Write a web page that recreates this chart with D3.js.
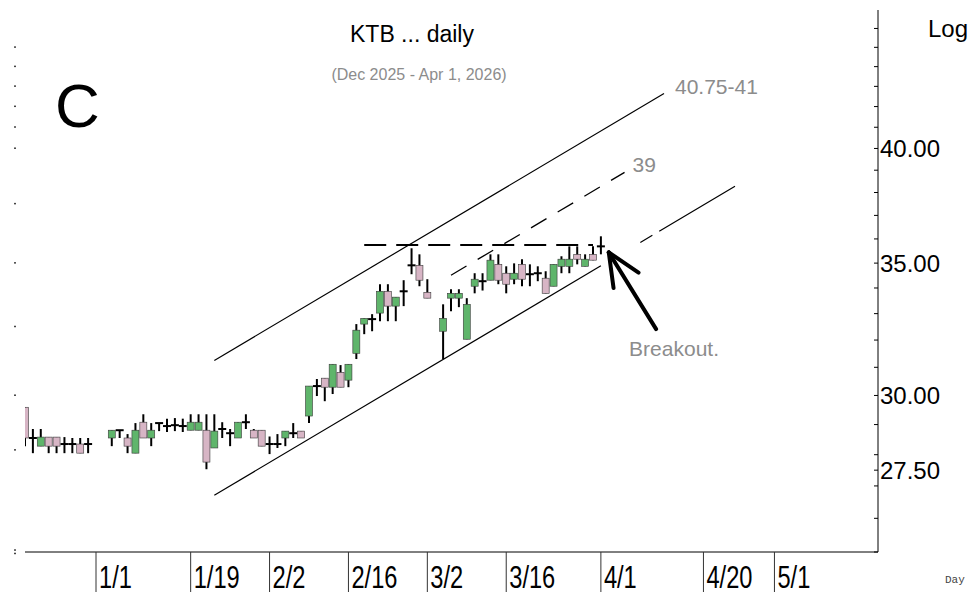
<!DOCTYPE html>
<meta charset="utf-8">
<style>
body {
    margin: 0;
    background: #fff;
}

svg text {
    font-family: "Liberation Sans", Arial, sans-serif;
}

.wick {
    stroke: #000;
    stroke-width: 2;
}

.up {
    fill: #5fb56b;
    stroke: #3a3a3a;
    stroke-width: 0.6;
}

.down {
    fill: #d7b5c5;
    stroke: #3a3a3a;
    stroke-width: 0.6;
}

.note {
    fill: #8c8c8c;
}
</style>
<body>
<script src="https://d3js.org/d3.v7.min.js"></script>
<script>
    var width = 969,
        height = 596;

    // daily bars
    var dates = ["2025-12-19", "2025-12-22", "2025-12-23", "2025-12-24", "2025-12-25", "2025-12-26", "2025-12-29", "2025-12-30", "2025-12-31",
        "2026-01-05", "2026-01-06", "2026-01-07", "2026-01-08", "2026-01-09", "2026-01-12", "2026-01-13", "2026-01-14", "2026-01-15", "2026-01-16",
        "2026-01-19", "2026-01-20", "2026-01-21", "2026-01-22", "2026-01-23", "2026-01-26", "2026-01-27", "2026-01-28", "2026-01-29", "2026-01-30",
        "2026-02-02", "2026-02-03", "2026-02-04", "2026-02-05", "2026-02-06", "2026-02-09", "2026-02-10", "2026-02-11", "2026-02-12", "2026-02-13",
        "2026-02-16", "2026-02-17", "2026-02-18", "2026-02-19", "2026-02-20", "2026-02-23", "2026-02-24", "2026-02-25", "2026-02-26", "2026-02-27",
        "2026-03-02", "2026-03-04", "2026-03-05", "2026-03-06", "2026-03-09", "2026-03-10", "2026-03-11", "2026-03-12", "2026-03-13",
        "2026-03-16", "2026-03-17", "2026-03-18", "2026-03-19", "2026-03-20", "2026-03-23", "2026-03-24", "2026-03-25", "2026-03-26", "2026-03-27",
        "2026-03-30", "2026-03-31", "2026-04-01"];
    var opens = [29.59, 28.55, 28.28, 28.58, 28.58, 28.35, 28.35, 28.35, 28.35,
        28.55, 28.81, 28.55, 28.05, 29.08, 28.55, 29.05, 28.95, 28.98, 28.95,
        28.81, 28.81, 28.81, 28.22, 28.85, 28.71, 28.55, 29.08, 28.81, 28.81,
        28.35, 28.35, 28.55, 28.71, 28.78, 29.29, 30.33, 30.61, 30.29, 30.82,
        30.54, 31.51, 32.60, 32.79, 33.02, 33.87, 33.29, 33.87, 34.91, 34.91,
        33.83, 32.33, 33.60, 33.60, 32.03, 34.07, 34.27, 34.31, 34.95,
        34.59, 34.35, 34.95, 34.55, 34.59, 34.39, 34.07, 34.87, 34.87, 35.36,
        34.87, 35.36, 35.69];
    var highs = [29.59, 28.85, 28.85, 28.58, 28.58, 28.58, 28.55, 28.55, 28.55,
        28.81, 28.81, 28.68, 29.05, 29.35, 29.05, 29.05, 29.20, 29.22, 29.20,
        29.35, 29.35, 29.35, 29.35, 29.08, 28.85, 29.08, 29.35, 28.85, 28.81,
        28.60, 28.68, 28.78, 29.05, 28.78, 30.33, 30.58, 30.61, 31.11, 31.08,
        31.11, 32.60, 32.82, 32.98, 34.15, 34.15, 33.64, 34.31, 35.61, 35.36,
        34.35, 33.36, 33.95, 33.95, 33.60, 34.59, 34.59, 35.36, 35.36,
        34.87, 34.99, 35.16, 34.95, 34.87, 34.67, 34.95, 35.28, 35.69, 35.69,
        35.36, 35.69, 36.11];
    var lows = [28.28, 28.05, 28.28, 28.05, 28.05, 28.05, 28.05, 28.05, 28.05,
        28.28, 28.55, 28.05, 28.05, 28.55, 28.28, 28.78, 28.75, 28.78, 28.75,
        28.81, 28.81, 27.53, 28.22, 28.55, 28.28, 28.55, 28.85, 28.55, 28.28,
        28.02, 28.22, 28.28, 28.55, 28.55, 29.05, 29.98, 29.80, 30.05, 30.29,
        30.29, 31.30, 32.22, 32.33, 32.71, 32.71, 32.71, 33.29, 34.55, 34.07,
        33.60, 31.30, 33.09, 33.25, 32.03, 33.79, 33.90, 34.31, 34.15,
        33.79, 34.15, 34.07, 34.07, 34.27, 33.79, 34.07, 34.59, 34.59, 34.95,
        34.87, 35.12, 35.36];
    var closes = [28.55, 28.55, 28.58, 28.28, 28.28, 28.35, 28.35, 28.05, 28.35,
        28.81, 28.81, 28.28, 28.81, 28.55, 28.81, 29.05, 28.95, 28.98, 28.95,
        29.08, 29.08, 27.76, 28.78, 28.85, 28.71, 29.08, 29.08, 28.55, 28.28,
        28.35, 28.35, 28.78, 28.71, 28.55, 30.33, 30.33, 30.29, 31.11, 30.29,
        31.11, 32.37, 32.82, 32.79, 33.87, 33.29, 33.64, 33.87, 34.91, 34.31,
        33.60, 32.82, 33.79, 33.79, 33.36, 34.35, 34.27, 35.12, 34.31,
        34.15, 34.59, 34.35, 34.55, 34.59, 33.79, 34.95, 35.16, 35.16, 35.16,
        35.16, 35.12, 35.69];

    // axis labels
    var xTickDates = ["2026-01-01", "2026-01-19", "2026-02-02", "2026-02-16", "2026-03-02", "2026-03-16", "2026-04-01", "2026-04-20", "2026-05-01"];
    var xTickLabels = ["1/1", "1/19", "2/2", "2/16", "3/2", "3/16", "4/1", "4/20", "5/1"];
    var yTickLabels = [40, 35, 30, 27.5];
    var leftMarks = [45, 44, 43, 42, 41, 40, 37.5, 35, 32.5, 30, 28.15, 25.05, 24.95];

    // drawn lines: [date, price]
    var upperChannel = [["2026-01-22", 31.25], ["2026-04-13", 42.64]];
    var lowerChannel = [["2026-01-22", 26.71], ["2026-04-01", 34.89]];
    var lowerChannelExt = [["2026-04-08", 35.85], ["2026-04-24", 38.28]];
    var midChannel = [["2026-03-05", 34.51], ["2026-04-06", 38.90]];
    var resistance = [["2026-02-18", 35.75], ["2026-03-31", 35.75]];
    var arrow = [["2026-04-10", 32.41], ["2026-04-02", 35.44]];

    var svg = d3.select("body").append("svg")
        .attr("width", width)
        .attr("height", height);

    var fmt = d3.timeFormat("%Y-%m-%d");
    var days = d3.timeDay.range(new Date(2025, 11, 19), new Date(2026, 4, 21))
        .filter(function(d) { return d.getDay() !== 0 && d.getDay() !== 6; })
        .map(fmt);

    var x = d3.scalePoint().domain(days).range([25, 877]);
    var y = d3.scaleLog().domain([25, 47]).range([552, 10]);

    svg.append("clipPath").attr("id", "plot")
        .append("rect")
        .attr("x", 25).attr("y", 0)
        .attr("width", 853).attr("height", 552);

    var candles = dates.map(function(d, i) {
        return {date: d, o: opens[i], h: highs[i], l: lows[i], c: closes[i]};
    });

    var plot = svg.append("g").attr("clip-path", "url(#plot)");

    plot.selectAll("line.wick")
        .data(candles)
        .join("line")
        .attr("class", "wick")
        .attr("x1", function(d) { return x(d.date); })
        .attr("x2", function(d) { return x(d.date); })
        .attr("y1", function(d) { return y(d.h); })
        .attr("y2", function(d) { return y(d.l); });

    plot.selectAll("line.flat")
        .data(candles.filter(function(d) { return d.o === d.c; }))
        .join("line")
        .attr("class", "wick flat")
        .attr("x1", function(d) { return x(d.date) - 4; })
        .attr("x2", function(d) { return x(d.date) + 4; })
        .attr("y1", function(d) { return y(d.o); })
        .attr("y2", function(d) { return y(d.o); });

    plot.selectAll("rect.body")
        .data(candles.filter(function(d) { return d.o !== d.c; }))
        .join("rect")
        .attr("class", function(d) { return d.c > d.o ? "body up" : "body down"; })
        .attr("x", function(d) { return x(d.date) - 3.5; })
        .attr("width", 7)
        .attr("y", function(d) { return y(Math.max(d.o, d.c)); })
        .attr("height", function(d) { return Math.max(1, Math.abs(y(d.o) - y(d.c))); });

    var line = d3.line()
        .x(function(d) { return x(d[0]); })
        .y(function(d) { return y(d[1]); });

    svg.append("path").attr("d", line(upperChannel))
        .attr("stroke", "#000").attr("stroke-width", 1.2).attr("fill", "none");
    svg.append("path").attr("d", line(lowerChannel))
        .attr("stroke", "#000").attr("stroke-width", 1.2).attr("fill", "none");
    svg.append("path").attr("d", line(lowerChannelExt))
        .attr("stroke", "#000").attr("stroke-width", 1.2).attr("fill", "none")
        .attr("stroke-dasharray", "14,8,120");
    svg.append("path").attr("d", line(midChannel))
        .attr("stroke", "#000").attr("stroke-width", 1.3).attr("fill", "none")
        .attr("stroke-dasharray", "18,13");
    svg.append("path").attr("d", line(resistance))
        .attr("stroke", "#000").attr("stroke-width", 2).attr("fill", "none")
        .attr("stroke-dasharray", "22,10");

    // arrow toward the breakout bar
    var tail = [x(arrow[0][0]), y(arrow[0][1])],
        tip = [x(arrow[1][0]), y(arrow[1][1])];
    var ang = Math.atan2(tail[1] - tip[1], tail[0] - tip[0]);
    svg.append("line")
        .attr("x1", tail[0]).attr("y1", tail[1])
        .attr("x2", tip[0]).attr("y2", tip[1])
        .attr("stroke", "#000").attr("stroke-width", 4).attr("stroke-linecap", "round");
    [-0.42, 0.42].forEach(function(a) {
        svg.append("line")
            .attr("x1", tip[0]).attr("y1", tip[1])
            .attr("x2", tip[0] + 36 * Math.cos(ang + a))
            .attr("y2", tip[1] + 36 * Math.sin(ang + a))
            .attr("stroke", "#000").attr("stroke-width", 4).attr("stroke-linecap", "round");
    });

    // notes
    svg.append("text").attr("class", "note")
        .attr("x", x(upperChannel[1][0]) + 11).attr("y", y(upperChannel[1][1]))
        .attr("font-size", 21).text("40.75-41");
    svg.append("text").attr("class", "note")
        .attr("x", x(midChannel[1][0]) + 8).attr("y", y(midChannel[1][1]))
        .attr("font-size", 21).text("39");
    svg.append("text").attr("class", "note")
        .attr("x", tail[0] - 27).attr("y", tail[1] + 27)
        .attr("font-size", 21).text("Breakout.");

    // titles
    svg.append("text").attr("x", 412).attr("y", 42)
        .attr("text-anchor", "middle").attr("font-size", 23).text("KTB ... daily");
    svg.append("text").attr("class", "note").attr("x", 419).attr("y", 80)
        .attr("text-anchor", "middle").attr("font-size", 16).text("(Dec 2025 - Apr 1, 2026)");
    svg.append("text").attr("x", 55).attr("y", 127)
        .attr("font-size", 62).text("C");
    svg.append("text").attr("x", 928).attr("y", 37)
        .attr("font-size", 24).text("Log");

    // right price axis
    svg.append("line")
        .attr("x1", 878).attr("x2", 878).attr("y1", 10).attr("y2", 552)
        .attr("stroke", "#000");
    svg.selectAll("line.ytick")
        .data(d3.range(25, 47).concat([27.5]))
        .join("line")
        .attr("class", "ytick")
        .attr("x1", 874).attr("x2", 878)
        .attr("y1", function(d) { return y(d); })
        .attr("y2", function(d) { return y(d); })
        .attr("stroke", "#000");
    svg.selectAll("text.ylab")
        .data(yTickLabels)
        .join("text")
        .attr("class", "ylab")
        .attr("x", 880)
        .attr("y", function(d) { return y(d); })
        .attr("dy", "0.35em")
        .attr("font-size", 24)
        .text(d3.format(".2f"));

    svg.selectAll("rect.lmark")
        .data(leftMarks)
        .join("rect")
        .attr("class", "lmark")
        .attr("x", 14).attr("width", 2).attr("height", 1.5)
        .attr("y", function(d) { return y(d) - 1; })
        .attr("fill", "#444");

    // bottom date axis
    svg.append("line")
        .attr("x1", 25).attr("x2", 878).attr("y1", 552).attr("y2", 552)
        .attr("stroke", "#000");
    var xt = svg.selectAll("g.xtick")
        .data(xTickDates)
        .join("g")
        .attr("class", "xtick");
    xt.append("line")
        .attr("x1", function(d) { return x(d); })
        .attr("x2", function(d) { return x(d); })
        .attr("y1", 552).attr("y2", 592)
        .attr("stroke", "#333");
    xt.append("text")
        .attr("transform", function(d) { return "translate(" + (x(d) + 3) + ",588) scale(0.74,1)"; })
        .attr("font-size", 32)
        .text(function(d, i) { return xTickLabels[i]; });

    svg.append("text").attr("x", 945).attr("y", 583)
        .attr("font-size", 11).attr("fill", "#444")
        .style("font-family", "'Liberation Mono', 'DejaVu Sans Mono', monospace")
        .text("Day");
</script>
